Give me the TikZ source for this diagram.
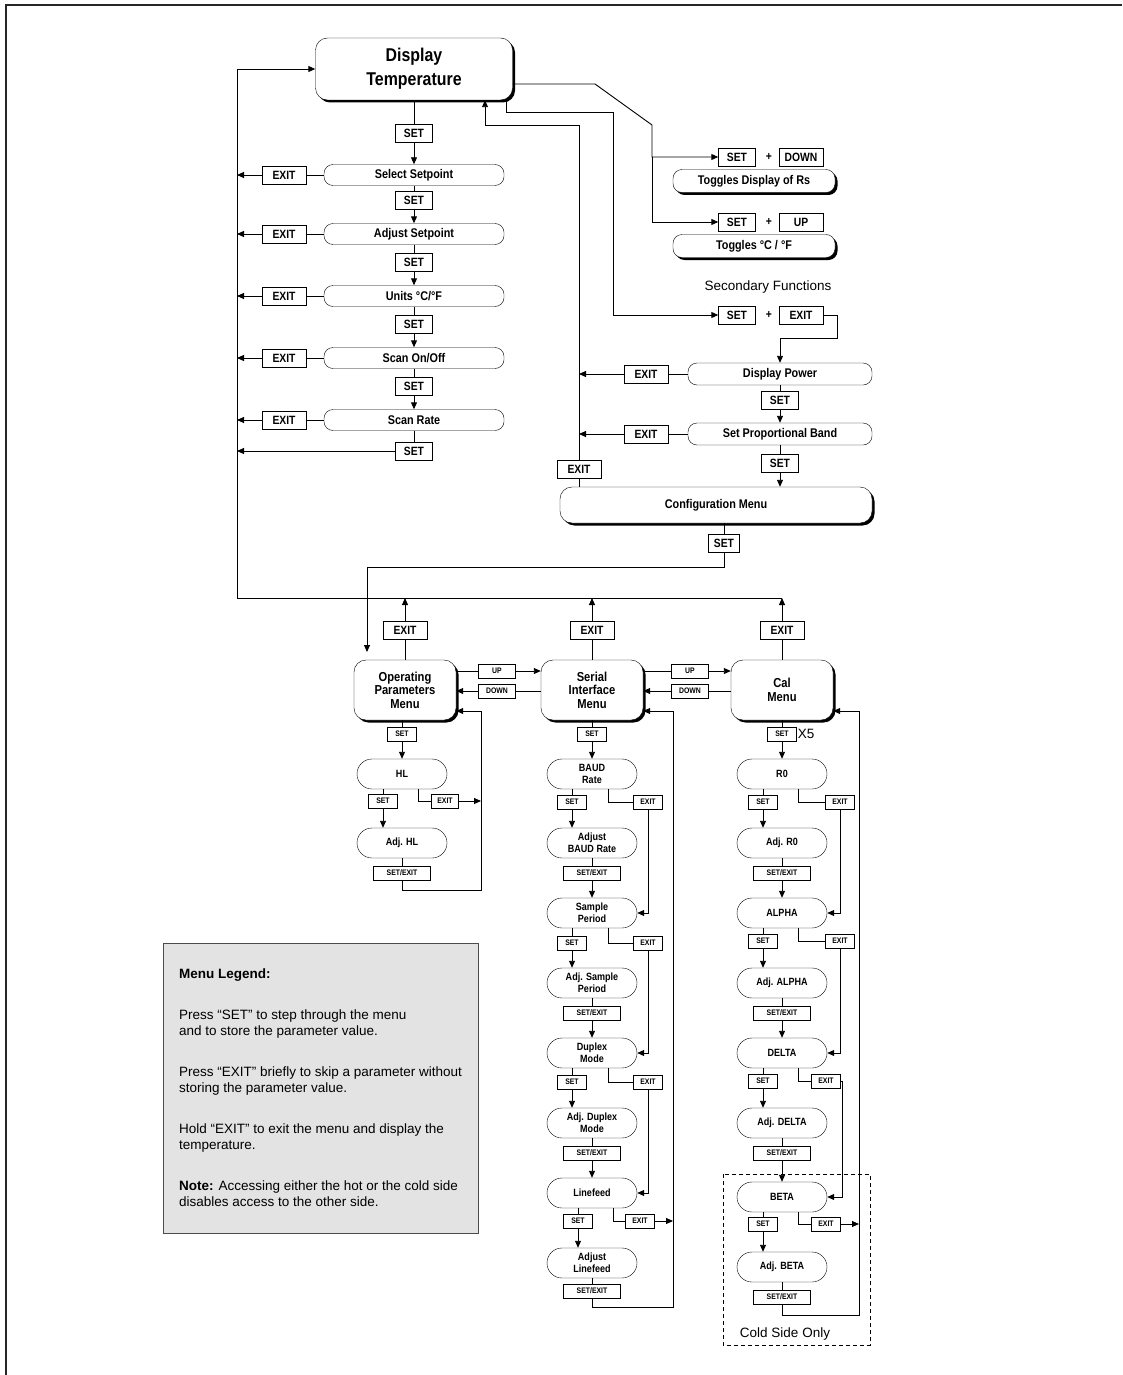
\documentclass[tikz,border=0pt]{standalone}
\usepackage{fontspec}
\setmainfont{Liberation Sans}
\newfontfamily\cnd[FakeStretch=0.86]{Liberation Sans}
\usetikzlibrary{arrows.meta,shadows}

\newcommand{\fhead}{\cnd\bfseries\fontsize{18.5}{24}\selectfont}
\newcommand{\fitem}{\cnd\bfseries\fontsize{12.6}{14}\selectfont}
\newcommand{\fmenu}{\cnd\bfseries\fontsize{13}{13.5}\selectfont}
\newcommand{\fkey}{\cnd\bfseries\fontsize{12}{13}\selectfont}
\newcommand{\fsml}{\cnd\bfseries\fontsize{8}{10}\selectfont}
\newcommand{\fpar}{\cnd\bfseries\fontsize{10.5}{12}\selectfont}
\newcommand{\fnote}{\fontsize{13.5}{16.5}\selectfont}

\begin{document}
\begin{tikzpicture}[
  x=1pt,y=-1pt,
  ln/.style={draw=black,line width=0.9pt},
  arr/.style={ln,-{Triangle[length=7pt,width=6pt]}},
  sh/.style={fill=white,drop shadow={shadow xshift=2.5pt,shadow yshift=-2.5pt,opacity=1,fill=black}},
  head/.style={draw,sh,rounded corners=12pt,minimum width=197pt,minimum height=62pt,align=center,font=\fhead},
  item/.style={draw,fill=white,rounded corners=9pt,minimum width=180pt,minimum height=21pt,inner sep=0pt,font=\fitem},
  toggle/.style={item,sh,minimum width=162pt,minimum height=23pt},
  menu/.style={draw,sh,rounded corners=12pt,minimum width=102pt,minimum height=60pt,align=center,font=\fmenu},
  parm/.style={draw,fill=white,rounded corners=15pt,minimum width=90pt,minimum height=30pt,inner sep=0pt,align=center,font=\fpar},
  key/.style={draw,fill=white,minimum width=37pt,minimum height=18pt,inner sep=0pt,font=\fkey},
  wkey/.style={key,minimum width=44pt},
  skey/.style={draw,fill=white,minimum width=29pt,minimum height=14pt,inner sep=0pt,font=\fsml},
  lkey/.style={skey,minimum width=57pt},
  mkey/.style={skey,minimum width=37pt}
]
  \useasboundingbox (0,0) rectangle (1122,1375);
  \draw[line width=2.5pt,black!85] (6,1375) -- (6,5) -- (1122,5);

  % main menu
  \node[head] (disp) at (414,69) {Display\\Temperature};
  \node[key] (k0) at (414,133) {SET};
  \node[item] (i1) at (414,175) {Select Setpoint};
  \node[key] (k1) at (414,200) {SET};
  \node[item] (i2) at (414,234) {Adjust Setpoint};
  \node[key] (k2) at (414,262) {SET};
  \node[item] (i3) at (414,296) {Units °C/°F};
  \node[key] (k3) at (414,324) {SET};
  \node[item] (i4) at (414,358) {Scan On/Off};
  \node[key] (k4) at (414,386) {SET};
  \node[item] (i5) at (414,420) {Scan Rate};
  \node[key] (k5) at (414,451) {SET};
  \foreach \i/\y in {1/175,2/234,3/296,4/358,5/420}
    \node[wkey] (x\i) at (284,\y) {EXIT};

  \coordinate (rl) at (237,598);
  \coordinate (rr) at (782,598);
  \draw[arr] (rl) -- (rl |- disp.west) -- (disp.west);
  \draw[ln] (rl) -- (rr);
  \foreach \a/\k/\b in {disp/k0/i1,i1/k1/i2,i2/k2/i3,i3/k3/i4,i4/k4/i5} {
    \draw[ln] (\a) -- (\k);
    \draw[arr] (\k) -- (\b);
  }
  \foreach \i in {1,...,5} {
    \draw[ln] (i\i) -- (x\i);
    \draw[arr] (x\i) -- (x\i -| rl);
  }
  \draw[ln] (i5) -- (k5);
  \draw[arr] (k5) -- (k5 -| rl);

  % toggles
  \node[key] (sd) at (737,157) {SET};
  \node[font=\fkey] (pd) at (769,157) {+};
  \node[wkey] (dn) at (801,157) {DOWN};
  \node[toggle] (tg1) at (754,181) {Toggles Display of Rs};
  \node[key] (su) at (737,222) {SET};
  \node[font=\fkey] (pu) at (769,222) {+};
  \node[wkey] (up) at (801,222) {UP};
  \node[toggle] (tg2) at (754,246) {Toggles °C / °F};
  \draw[arr] (disp.east |- 0,84) -- (595,84) -- (652,125) |- (sd.west);
  \draw[arr] (652,157) |- (su.west);

  % secondary functions
  \node[font=\fnote] (sec) at (768,287) {Secondary Functions};
  \node[key] (sf) at (737,315) {SET};
  \node[font=\fkey] (pf) at (769,315) {+};
  \node[wkey] (sx) at (801,315) {EXIT};
  \node[item,minimum width=184pt,minimum height=22pt] (dp) at (780,374) {Display Power};
  \node[wkey] (dx1) at (646,374) {EXIT};
  \node[key] (dk1) at (780,400) {SET};
  \node[item,minimum width=184pt,minimum height=22pt] (spb) at (780,434) {Set Proportional Band};
  \node[wkey] (dx2) at (646,434) {EXIT};
  \node[key] (dk2) at (780,463) {SET};
  \node[draw,sh,rounded corners=12pt,minimum width=312pt,minimum height=36pt,font=\fitem] (cfg) at (716,505) {Configuration Menu};
  \node[wkey] (cx) at (579,469) {EXIT};
  \node[key,minimum width=31pt] (ck) at (724,543) {SET};

  \draw[arr] (disp.south -| 506,0) |- (613,112) |- (sf.west);
  \draw[arr] (sx.east) -| (837,338) -| (dp.north);
  \draw[ln] (dp) -- (dx1);
  \draw[arr] (dx1) -- (dx1 -| cx);
  \draw[ln] (dp) -- (dk1);
  \draw[arr] (dk1) -- (spb);
  \draw[ln] (spb) -- (dx2);
  \draw[arr] (dx2) -- (dx2 -| cx);
  \draw[ln] (spb) -- (dk2);
  \draw[arr] (dk2) -- (dk2 |- cfg.north);
  \draw[ln] (cx |- cfg.north) -- (cx);
  \draw[arr] (cx) |- (485,125) -- (disp.south -| 485,0);
  \draw[ln] (ck |- cfg.south) -- (ck);
  \draw[arr] (ck) |- (367,567) -- (367,652);

  % configuration menus
  \node[menu] (op) at (405,690) {Operating\\Parameters\\Menu};
  \node[menu] (si) at (592,690) {Serial\\Interface\\Menu};
  \node[menu] (cm) at (782,690) {Cal\\Menu};
  \node[wkey] (ox) at (405,630) {EXIT};
  \node[wkey] (sx2) at (592,630) {EXIT};
  \node[wkey] (cx2) at (782,630) {EXIT};
  \foreach \m/\e in {op/ox,si/sx2,cm/cx2} {
    \draw[ln] (\m) -- (\e);
    \draw[arr] (\e) -- (\e |- rl);
  }
  \node[mkey] (u1) at (497,671) {UP};
  \node[mkey] (d1) at (497,691) {DOWN};
  \node[mkey] (u2) at (690,671) {UP};
  \node[mkey] (d2) at (690,691) {DOWN};
  \draw[ln] (op.east |- u1) -- (u1);
  \draw[arr] (u1) -- (si.west |- u1);
  \draw[ln] (si.west |- d1) -- (d1);
  \draw[arr] (d1) -- (op.east |- d1);
  \draw[ln] (si.east |- u2) -- (u2);
  \draw[arr] (u2) -- (cm.west |- u2);
  \draw[ln] (cm.west |- d2) -- (d2);
  \draw[arr] (d2) -- (si.east |- d2);

  % operating parameters
  \node[skey] (os) at (402,734) {SET};
  \node[parm] (hl) at (402,774) {HL};
  \node[skey] (hs) at (383,801) {SET};
  \node[skey,minimum width=27pt] (he) at (445,801) {EXIT};
  \node[parm] (ahl) at (402,843) {Adj. HL};
  \node[lkey] (hx) at (402,873) {SET/EXIT};
  \draw[ln] (os |- op.south) -- (os);
  \draw[arr] (os) -- (hl);
  \draw[ln] (hl.south -| hs) -- (hs);
  \draw[arr] (hs) -- (ahl.north -| hs);
  \draw[ln] (hl.south -| 418,0) |- (he.west);
  \draw[arr] (he.east) -- (481,801);
  \draw[ln] (ahl) -- (hx);
  \draw[arr] (hx.south) |- (481,890) |- (op.east |- 0,711);

  % serial interface
  \node[skey] (ss) at (592,734) {SET};
  \node[parm] (br) at (592,774) {BAUD\\Rate};
  \node[skey] (bs) at (572,802) {SET};
  \node[skey] (be) at (648,802) {EXIT};
  \node[parm] (abr) at (592,843) {Adjust\\BAUD Rate};
  \node[lkey] (bx) at (592,873) {SET/EXIT};
  \node[parm] (smp) at (592,913) {Sample\\Period};
  \node[skey] (ms) at (572,943) {SET};
  \node[skey] (me) at (648,943) {EXIT};
  \node[parm] (asm) at (592,983) {Adj. Sample\\Period};
  \node[lkey] (mx) at (592,1013) {SET/EXIT};
  \node[parm] (dm) at (592,1053) {Duplex\\Mode};
  \node[skey] (us) at (572,1082) {SET};
  \node[skey] (ue) at (648,1082) {EXIT};
  \node[parm] (adm) at (592,1123) {Adj. Duplex\\Mode};
  \node[lkey] (ux) at (592,1153) {SET/EXIT};
  \node[parm] (lf) at (592,1193) {Linefeed};
  \node[skey] (ls) at (578,1221) {SET};
  \node[skey] (le) at (640,1221) {EXIT};
  \node[parm] (alf) at (592,1263) {Adjust\\Linefeed};
  \node[lkey] (lx) at (592,1291) {SET/EXIT};
  \draw[ln] (ss |- si.south) -- (ss);
  \draw[arr] (ss) -- (br);
  \foreach \p/\s/\e/\a/\x/\n in {br/bs/be/abr/bx/smp,smp/ms/me/asm/mx/dm,dm/us/ue/adm/ux/lf} {
    \draw[ln] (\p.south -| \s) -- (\s);
    \draw[arr] (\s) -- (\a.north -| \s);
    \draw[ln] (\p.south -| 608,0) |- (\e.west);
    \draw[arr] (\e.south) |- (\n.east);
    \draw[ln] (\a) -- (\x);
    \draw[arr] (\x) -- (\n);
  }
  \draw[ln] (lf.south -| ls) -- (ls);
  \draw[arr] (ls) -- (alf.north -| ls);
  \draw[ln] (lf.south -| 613,0) |- (le.west);
  \draw[arr] (le.east) -- (673,1221);
  \draw[ln] (alf) -- (lx);
  \draw[arr] (lx.south) |- (673,1307) |- (si.east |- 0,711);

  % cal menu
  \node[skey] (cs) at (782,734) {SET};
  \node[font=\fnote,anchor=west,inner sep=1pt] (x5) at (cs.east) {X5};
  \node[parm] (r0) at (782,774) {R0};
  \node[skey] (rs) at (763,802) {SET};
  \node[skey] (re) at (840,802) {EXIT};
  \node[parm] (ar0) at (782,843) {Adj. R0};
  \node[lkey] (rx) at (782,873) {SET/EXIT};
  \node[parm] (al) at (782,913) {ALPHA};
  \node[skey] (als) at (763,941) {SET};
  \node[skey] (ale) at (840,941) {EXIT};
  \node[parm] (aal) at (782,983) {Adj. ALPHA};
  \node[lkey] (alx) at (782,1013) {SET/EXIT};
  \node[parm] (de) at (782,1053) {DELTA};
  \node[skey] (des) at (763,1081) {SET};
  \node[skey] (dee) at (826,1081) {EXIT};
  \node[parm] (ade) at (782,1123) {Adj. DELTA};
  \node[lkey] (dex) at (782,1153) {SET/EXIT};
  \node[parm] (bt) at (782,1197) {BETA};
  \node[skey] (bts) at (763,1224) {SET};
  \node[skey] (bte) at (826,1224) {EXIT};
  \node[parm] (abt) at (782,1267) {Adj. BETA};
  \node[lkey] (btx) at (782,1297) {SET/EXIT};
  \draw[ln] (cs |- cm.south) -- (cs);
  \draw[arr] (cs) -- (r0);
  \foreach \p/\s/\e/\a/\x/\n in {r0/rs/re/ar0/rx/al,al/als/ale/aal/alx/de} {
    \draw[ln] (\p.south -| \s) -- (\s);
    \draw[arr] (\s) -- (\a.north -| \s);
    \draw[ln] (\p.south -| 798,0) |- (\e.west);
    \draw[arr] (\e.south) |- (\n.east);
    \draw[ln] (\a) -- (\x);
    \draw[arr] (\x) -- (\n);
  }
  \draw[ln] (de.south -| des) -- (des);
  \draw[arr] (des) -- (ade.north -| des);
  \draw[ln] (de.south -| 798,0) |- (dee.west);
  \draw[arr] (dee.east) -| (842,1197) -- (bt.east);
  \draw[ln] (ade) -- (dex);
  \draw[arr] (dex) -- (bt);
  \draw[ln] (bt.south -| bts) -- (bts);
  \draw[arr] (bts) -- (abt.north -| bts);
  \draw[ln] (bt.south -| 798,0) |- (bte.west);
  \draw[arr] (bte.east) -- (859,1224);
  \draw[ln] (abt) -- (btx);
  \draw[arr] (btx.south) |- (859,1315) |- (cm.east |- 0,711);

  % cold side
  \draw[line width=0.8pt,dash pattern=on 4pt off 3pt] (723,1174) rectangle (870,1345);
  \node[font=\fnote] (cso) at (785,1334) {Cold Side Only};

  % legend
  \node[draw=black!70,fill=black!11,line width=0.8pt,minimum width=315pt,minimum height=290pt,
    align=left,font=\fnote] (leg) at (320.5,1088)
    {\textbf{Menu Legend:}\\[24pt]Press “SET” to step through the menu\\and to store the parameter value.\\[24pt]Press “EXIT” briefly to skip a parameter without\\storing the parameter value.\\[24pt]Hold “EXIT” to exit the menu and display the\\temperature.\\[24pt]\textbf{Note:} Accessing either the hot or the cold side\\disables access to the other side.};
\end{tikzpicture}
\end{document}
